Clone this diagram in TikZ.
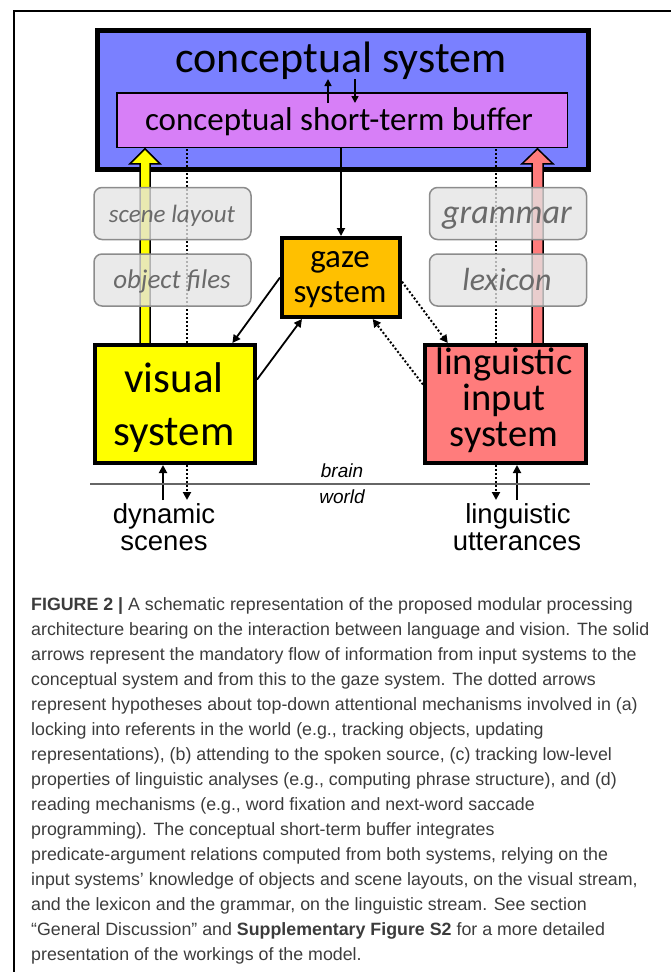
\documentclass[tikz,border=0pt]{standalone}
\usepackage{fontspec}
\setmainfont{Liberation Sans}
\newfontfamily\carl{Carlito}
\usetikzlibrary{arrows.meta,calc}
\definecolor{concblue}{HTML}{7A80FF}
\definecolor{bufpurple}{HTML}{D77FF7}
\definecolor{gazeor}{HTML}{FFC000}
\definecolor{visyel}{HTML}{FFFF00}
\definecolor{lingred}{HTML}{FF7C7C}
\definecolor{boxgray}{HTML}{E4E4E4}
\definecolor{boxedge}{HTML}{8C8C8C}
\definecolor{textgray}{HTML}{6A6A6A}
\definecolor{captext}{HTML}{3C3C3C}
\pgfdeclarelayer{back}
\pgfdeclarelayer{mid}
\pgfsetlayers{back,mid,main}
\tikzset{
  thickbox/.style={draw=black, line width=4pt, inner sep=0pt},
  arr/.style={line width=1.8pt, -{Triangle[length=8pt,width=8pt]}},
  smallarr/.style={line width=1.6pt, -{Triangle[length=7pt,width=7pt]}},
  dotarr/.style={line width=2pt, dash pattern=on 2pt off 2pt, -{Triangle[length=8pt,width=8pt]}},
  graybox/.style={draw=boxedge, line width=1.5pt, rounded corners=8pt, fill=boxgray, fill opacity=0.78, minimum width=157pt, minimum height=52pt, inner sep=0pt},
  graytext/.style={anchor=base, inner sep=0pt, text=textgray},
  boxtext/.style={anchor=base, inner sep=0pt},
  blockarr/.style={draw=black, line width=1.5pt, line join=miter},
  captline/.style={anchor=base west, inner sep=0pt, text=captext, font=\fontsize{17.8}{22}\selectfont},
  framel/.style={draw=black, line width=1.2pt},
  brainline/.style={draw=black!60, line width=1.3pt},
}
\begin{document}
\begin{tikzpicture}[x=1pt,y=-1pt]
\useasboundingbox (0,0) rectangle (671,972);

\begin{pgfonlayer}{back}
  \draw[framel] (14,972) coordinate (fbl) -- (14,11) coordinate (ftl) -- (671,11) coordinate (ftr);
  \node[thickbox, line width=5pt, fill=concblue, minimum width=491pt, minimum height=139pt] (conc) at (343,100) {};
  \node[draw=black, line width=1.5pt, fill=bufpurple, minimum width=450.5pt, minimum height=54.5pt, inner sep=0pt] (buf) at (342,120) {};
\end{pgfonlayer}

% main boxes
\node[thickbox, fill=gazeor, minimum width=118pt, minimum height=79pt] (gaze) at (341,277.5) {};
\node[thickbox, fill=visyel, minimum width=160pt, minimum height=118pt] (vis) at (175,404) {};
\node[thickbox, fill=lingred, minimum width=161pt, minimum height=118pt] (ling) at (505.5,404) {};

% block arrows and dotted lines behind
\begin{pgfonlayer}{mid}
  \path (vis.north west) ++(52,6) coordinate (ya);
  \path (buf.south west) ++(29,0.8) coordinate (yt);
  \draw[blockarr, fill=visyel] ($(ya)+(-5,0)$) -- ($(yt)+(-5,15)$) -- ($(yt)+(-15,15)$) -- (yt) -- ($(yt)+(15,15)$) -- ($(yt)+(5,15)$) -- ($(ya)+(5,0)$);
  \path (ling.north west) ++(114.5,6) coordinate (ra);
  \path (buf.south west) ++(421.5,0.8) coordinate (rt);
  \draw[blockarr, fill=lingred] ($(ra)+(-5.5,0)$) -- ($(rt)+(-5.5,15)$) -- ($(rt)+(-15.5,15)$) -- (rt) -- ($(rt)+(15.5,15)$) -- ($(rt)+(5.5,15)$) -- ($(ra)+(5.5,0)$);
  \path (buf.south west) ++(71,1) coordinate (dls);
  \coordinate (dle) at (187,500);
  \draw[dotarr] (dls) -- (dle);
  \path (buf.south west) ++(380,1) coordinate (drs);
  \coordinate (dre) at (496,500);
  \draw[dotarr] (drs) -- (dre);
\end{pgfonlayer}

% gray knowledge boxes
\node[graybox] (scene) at (172.5,213.5) {};
\node[graybox] (objf) at (172.5,280) {};
\node[graybox] (gram) at (508,213.5) {};
\node[graybox] (lex) at (508,280) {};

% texts
\node[boxtext, font=\carl\fontsize{44}{48}\selectfont] (tconc) at (341,72) {conceptual system};
\node[boxtext, font=\carl\fontsize{33}{36}\selectfont] (tbuf) at (339,130) {conceptual short-term buffer};
\node[boxtext, font=\carl\fontsize{33}{36}\selectfont] (tgaze1) at (340,267) {gaze};
\node[boxtext, font=\carl\fontsize{33}{36}\selectfont] (tgaze2) at (340,302) {system};
\node[boxtext, font=\carl\fontsize{43}{46}\selectfont] (tvis1) at (174,392) {visual};
\node[boxtext, font=\carl\fontsize{43}{46}\selectfont] (tvis2) at (174,445) {system};
\node[boxtext, font=\carl\fontsize{38.5}{42}\selectfont] (tling1) at (504,374) {linguistic};
\node[boxtext, font=\carl\fontsize{38.5}{42}\selectfont] (tling2) at (504,410) {input};
\node[boxtext, font=\carl\fontsize{38.5}{42}\selectfont] (tling3) at (504,446) {system};
\node[graytext, font=\carl\itshape\fontsize{25}{28}\selectfont] (tscene) at (172,222) {scene layout};
\node[graytext, font=\carl\itshape\fontsize{27}{30}\selectfont] (tobj) at (172,288) {object files};
\node[graytext, font=\carl\itshape\fontsize{34}{36}\selectfont] (tgram) at (507,223) {grammar};
\node[graytext, font=\carl\itshape\fontsize{32}{36}\selectfont] (tlex) at (507,290) {lexicon};

% arrows inside conceptual system
\path (buf.north) ++(-14,11) coordinate (cu1);
\path (buf.north) ++(-14,-13) coordinate (cu2);
\draw[smallarr] (cu1) -- (cu2);
\path (buf.north) ++(13,-13) coordinate (cd1);
\path (buf.north) ++(13,11) coordinate (cd2);
\draw[smallarr] (cd1) -- (cd2);

% connectors
\draw[arr] (gaze.north |- buf.south) -- (gaze.north);
\draw[arr] (gaze.west) -- ($(vis.north west)!0.85!(vis.north east)$);
\draw[arr] ($(vis.north east)!0.3!(vis.south east)$) -- ($(gaze.south west)!0.18!(gaze.south east)$);
\draw[dotarr] ($(gaze.north east)!0.55!(gaze.south east)$) -- ($(ling.north west)!0.15!(ling.north east)$);
\draw[dotarr] ($(ling.north west)!0.34!(ling.south west)$) -- ($(gaze.south west)!0.76!(gaze.south east)$);

% world inputs
\coordinate (vsu) at (163,500);
\draw[arr] (vsu) -- (vis.south -| vsu);
\coordinate (lsu) at (517,500);
\draw[arr] (lsu) -- (ling.south -| lsu);

% brain / world
\draw[brainline] (90,484) coordinate (bl1) -- (590,484) coordinate (bl2);
\node[boxtext, font=\itshape\fontsize{19}{22}\selectfont] (tbrain) at (342,477) {brain};
\node[boxtext, font=\itshape\fontsize{19}{22}\selectfont] (tworld) at (342,503) {world};
\node[boxtext, font=\fontsize{27.5}{30}\selectfont] (tdyn) at (164,523) {dynamic};
\node[boxtext, font=\fontsize{27.5}{30}\selectfont] (tscn) at (164,550) {scenes};
\node[boxtext, font=\fontsize{27.5}{30}\selectfont] (tlng) at (518,523) {linguistic};
\node[boxtext, font=\fontsize{27.5}{30}\selectfont] (tutt) at (517,550) {utterances};

% caption
\node[captline] (cap1) at (31,610) {\textbf{FIGURE 2 |} A schematic representation of the proposed modular processing};
\node[captline] (cap2) at (31,635) {architecture bearing on the interaction between language and vision. The solid};
\node[captline] (cap3) at (31,660) {arrows represent the mandatory flow of information from input systems to the};
\node[captline] (cap4) at (31,685) {conceptual system and from this to the gaze system. The dotted arrows};
\node[captline] (cap5) at (31,710) {represent hypotheses about top-down attentional mechanisms involved in (a)};
\node[captline] (cap6) at (31,735) {locking into referents in the world (e.g., tracking objects, updating};
\node[captline] (cap7) at (31,760) {representations), (b) attending to the spoken source, (c) tracking low-level};
\node[captline] (cap8) at (31,785) {properties of linguistic analyses (e.g., computing phrase structure), and (d)};
\node[captline] (cap9) at (31,810) {reading mechanisms (e.g., word fixation and next-word saccade};
\node[captline] (cap10) at (31,835) {programming). The conceptual short-term buffer integrates};
\node[captline] (cap11) at (31,860) {predicate-argument relations computed from both systems, relying on the};
\node[captline] (cap12) at (31,885) {input systems’ knowledge of objects and scene layouts, on the visual stream,};
\node[captline] (cap13) at (31,910) {and the lexicon and the grammar, on the linguistic stream. See section};
\node[captline] (cap14) at (31,935) {“General Discussion” and \textbf{Supplementary Figure S2} for a more detailed};
\node[captline] (cap15) at (31,960) {presentation of the workings of the model.};
\end{tikzpicture}
\end{document}
